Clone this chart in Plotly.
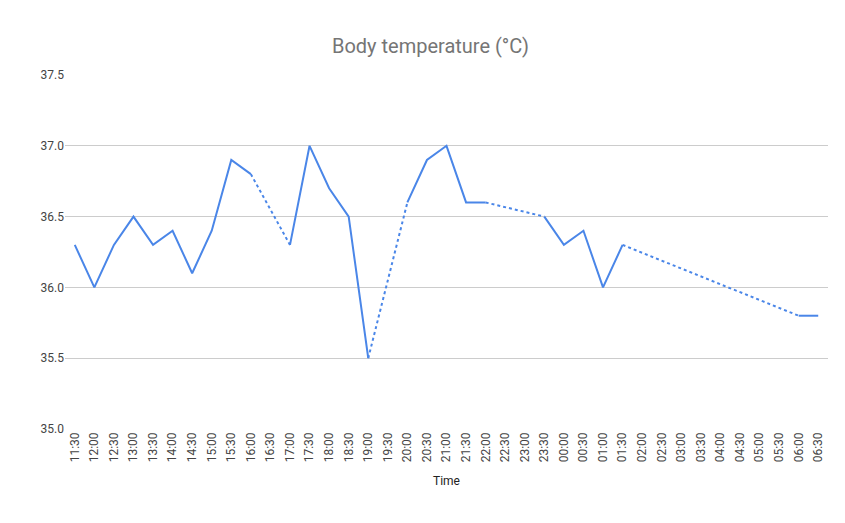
import plotly.graph_objects as go

times = ["11:30", "12:00", "12:30", "13:00", "13:30", "14:00", "14:30", "15:00", "15:30", "16:00",
         "16:30", "17:00", "17:30", "18:00", "18:30", "19:00", "19:30", "20:00", "20:30", "21:00",
         "21:30", "22:00", "22:30", "23:00", "23:30", "00:00", "00:30", "01:00", "01:30", "02:00",
         "02:30", "03:00", "03:30", "04:00", "04:30", "05:00", "05:30", "06:00", "06:30"]
temps = [36.3, 36.0, 36.3, 36.5, 36.3, 36.4, 36.1, 36.4, 36.9, 36.8,
         None, 36.3, 37.0, 36.7, 36.5, 35.5, None, 36.6, 36.9, 37.0,
         36.6, 36.6, None, None, 36.5, 36.3, 36.4, 36.0, 36.3, None,
         None, None, None, None, None, None, None, 35.8, 35.8]

color = "#4a86e8"
fig = go.Figure()
fig.add_trace(go.Scatter(x=times, y=temps, mode="lines", connectgaps=False,
                         line=dict(color=color, width=2), showlegend=False))

# dotted lines across the missing readings
i = 0
while i < len(temps):
    if temps[i] is None:
        j = i
        while temps[j] is None:
            j += 1
        fig.add_trace(go.Scatter(x=[times[i - 1], times[j]], y=[temps[i - 1], temps[j]],
                                 mode="lines", line=dict(color=color, width=2, dash="dot"),
                                 showlegend=False))
        i = j
    i += 1

fig.update_layout(
    width=845, height=523, plot_bgcolor="white", paper_bgcolor="white",
    margin=dict(l=57, r=25, t=67, b=102),
    title=dict(text="Body temperature (°C)", x=0.5, y=0.94, xanchor="center",
               font=dict(family="Roboto, Arial", size=20, color="#757575")),
    font=dict(family="Roboto, Arial", size=12, color="#444"),
)
fig.update_xaxes(title=dict(text="Time", font=dict(size=12, color="#222")), tickangle=-90,
                 showgrid=False, ticks="", tickfont=dict(size=12, color="#444"),
                 categoryorder="array", categoryarray=times, range=[-0.5, len(times) - 0.5])
fig.update_yaxes(range=[35.0, 37.5], dtick=0.5, tickformat=".1f", gridcolor="#cccccc",
                 zeroline=False, showline=False, ticks="", tickfont=dict(size=12, color="#444"))
fig.write_html("out.html")
